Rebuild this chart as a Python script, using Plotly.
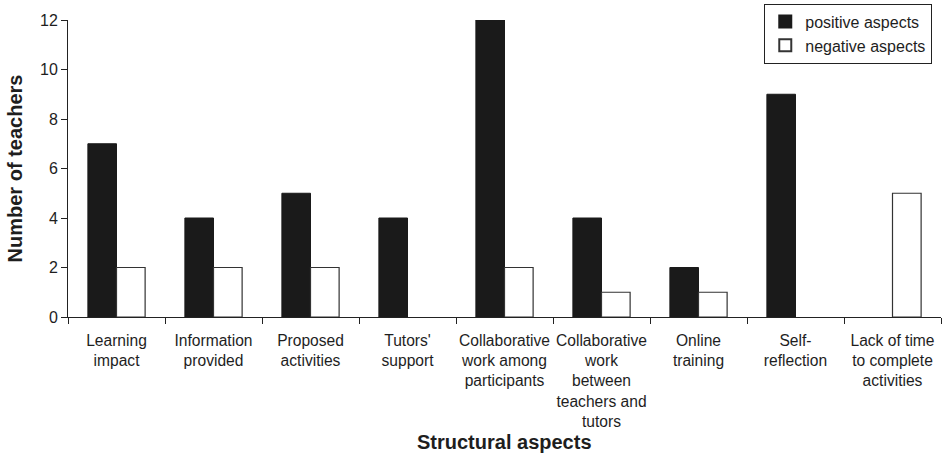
import plotly.graph_objects as go

categories = [
    "Learning<br>impact",
    "Information<br>provided",
    "Proposed<br>activities",
    "Tutors'<br>support",
    "Collaborative<br>work among<br>participants",
    "Collaborative<br>work<br>between<br>teachers and<br>tutors",
    "Online<br>training",
    "Self-<br>reflection",
    "Lack of time<br>to complete<br>activities",
]
positive = [7, 4, 5, 4, 12, 4, 2, 9, 0]
negative = [2, 2, 2, 0, 2, 1, 1, 0, 5]
y_ticks = [0, 2, 4, 6, 8, 10, 12]

font_family = "Liberation Sans, Arial, sans-serif"


def outline_widths(values, width):
    # no outline on empty bars, so a zero count leaves no flat stroke on the axis
    return [width if v else 0 for v in values]


fig = go.Figure()
fig.add_trace(go.Bar(
    x=categories, y=positive, name="positive aspects",
    marker=dict(color="#1a1a1a",
                line=dict(color="#1a1a1a", width=outline_widths(positive, 1))),
))
fig.add_trace(go.Bar(
    x=categories, y=negative, name="negative aspects",
    marker=dict(color="white",
                line=dict(color="#333333", width=outline_widths(negative, 1.2))),
))

fig.update_layout(
    width=944, height=453,
    margin=dict(l=68, r=3, t=20, b=136),
    paper_bgcolor="white", plot_bgcolor="white",
    barmode="group", bargap=0.41, bargroupgap=0,
    font=dict(family=font_family, size=16, color="#1e1e1e"),
    showlegend=True,
    legend=dict(
        x=0.99, y=1.055, xanchor="right", yanchor="top",
        bordercolor="#222222", borderwidth=1, bgcolor="white",
        font=dict(size=16), itemsizing="constant",
        itemwidth=30,
    ),
    xaxis=dict(
        tickson="boundaries", ticks="outside", ticklen=6,
        tickcolor="#222222", showline=True, linecolor="#222222",
        linewidth=1, tickfont=dict(size=15.6), tickangle=0,
        ticklabelstandoff=9,
    ),
    yaxis=dict(
        range=[0, 12], tickvals=y_ticks, ticks="outside", ticklen=6,
        tickcolor="#222222", showline=True, linecolor="#222222",
        linewidth=1, showgrid=False, zeroline=False,
        tickfont=dict(size=16),
        title=dict(text="<b>Number of teachers</b>", font=dict(size=20), standoff=12),
    ),
    # x-axis title set as an annotation so it can sit snug under the tallest label
    annotations=[dict(
        text="<b>Structural aspects</b>", font=dict(size=20),
        xref="paper", yref="paper", x=0.5, y=-0.42,
        xanchor="center", yanchor="middle", showarrow=False,
    )],
)

fig.write_html("out.html")
